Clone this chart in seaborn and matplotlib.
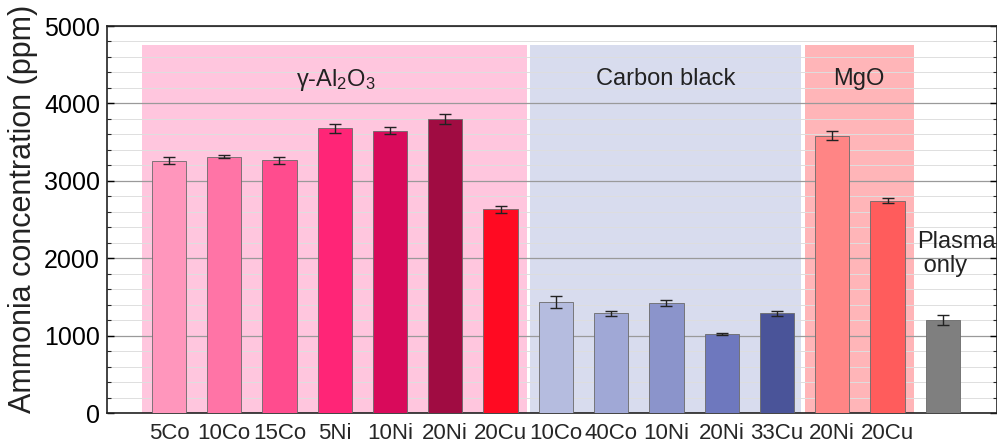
import matplotlib
matplotlib.use("Agg")
import matplotlib.pyplot as plt
import seaborn as sns
import pandas as pd
import numpy as np
from matplotlib.ticker import MultipleLocator

# ---- data ----
labels = ["5Co", "10Co", "15Co", "5Ni", "10Ni", "20Ni", "20Cu",
          "10Co", "40Co", "10Ni", "20Ni", "33Cu",
          "20Ni", "20Cu", ""]
values = [3260, 3310, 3265, 3680, 3650, 3795, 2630,
          1438, 1288, 1417, 1025, 1288,
          3583, 2743, 1202]
errors = [45, 18, 45, 60, 40, 65, 50,
          80, 30, 38, 12, 35,
          55, 35, 60]
bar_colors = ["#FF96BC", "#FF74A6", "#FF4C8E", "#FF2577", "#D90A5B", "#A00C42", "#FF0A22",
              "#B5BCDF", "#A0A8D6", "#8B94CB", "#6E78BE", "#4A5499",
              "#FF8585", "#FF5C5C", "#7F7F7F"]
group_names = ["γ-Al$_2$O$_3$", "Carbon black", "MgO"]
group_spans = [(-0.48, 6.47), (6.53, 11.44), (11.5, 13.47)]
group_colors = ["#FFC6DE", "#D8DCEE", "#FFB5B8"]
group_top = 4750

sns.set_theme(style="white")
plt.rcParams['font.family'] = ['Liberation Sans', 'DejaVu Sans']
plt.rcParams['mathtext.fontset'] = 'custom'
plt.rcParams['mathtext.rm'] = 'Liberation Sans'
plt.rcParams['mathtext.it'] = 'Liberation Sans:italic'

df = pd.DataFrame({"key": [str(i) for i in range(len(values))],
                   "value": values})

fig = plt.figure(figsize=(9.97, 4.44), dpi=100)
ax = fig.add_axes([0.1073, 0.0698, 0.8927, 0.8716])

# shaded group backgrounds
for (x0, x1), c in zip(group_spans, group_colors):
    ax.fill_between([x0, x1], 0, group_top, color=c, zorder=0, linewidth=0)

sns.barplot(data=df, x="key", y="value", hue="key", palette=bar_colors,
            saturation=1, legend=False, width=0.62, edgecolor="#6a6a6a",
            linewidth=0.6, ax=ax, zorder=3)

xpos = np.arange(len(values))
ax.errorbar(xpos, values, yerr=errors, fmt="none", ecolor="#222222",
            elinewidth=1.0, capsize=4.5, capthick=1.0, zorder=4)

ax.set_xlim(-1.12, 14.98)
ax.set_ylim(0, 5000)
ax.set_xticks(xpos)
ax.set_xticklabels(labels, fontsize=16)
ax.yaxis.set_major_locator(MultipleLocator(1000))
ax.yaxis.set_minor_locator(MultipleLocator(200))
ax.tick_params(axis="y", which="major", direction="in", length=5, width=1,
               labelsize=18, right=True, left=True, pad=5, colors="black")
ax.tick_params(axis="y", which="minor", direction="in", length=3, width=0.8,
               right=True, left=True)
ax.tick_params(axis="x", length=0, pad=7, labelsize=16)
ax.grid(which="major", axis="y", color="#9a9a9a", linewidth=0.9, zorder=1)
ax.grid(which="minor", axis="y", color="#dedede", linewidth=0.7, zorder=1)
ax.set_axisbelow(True)
ax.set_xlabel("")
ax.set_ylabel("Ammonia concentration (ppm)", fontsize=22, color="#222222")
ax.yaxis.set_label_coords(-0.078, 0.527)

for s in ["left", "bottom", "top", "right"]:
    ax.spines[s].set_color("#222222")
    ax.spines[s].set_linewidth(1.2)

# group labels
ax.text(3.02, 4300, group_names[0], ha="center", va="center", fontsize=17, color="#222222", zorder=5)
ax.text(8.98, 4320, group_names[1], ha="center", va="center", fontsize=17, color="#222222", zorder=5)
ax.text(12.48, 4320, group_names[2], ha="center", va="center", fontsize=17, color="#222222", zorder=5)
ax.text(13.53, 2050, "Plasma\n only", ha="left", va="center", fontsize=17,
        color="#222222", linespacing=1.1, zorder=5)

fig.savefig("out.png", dpi=100)
